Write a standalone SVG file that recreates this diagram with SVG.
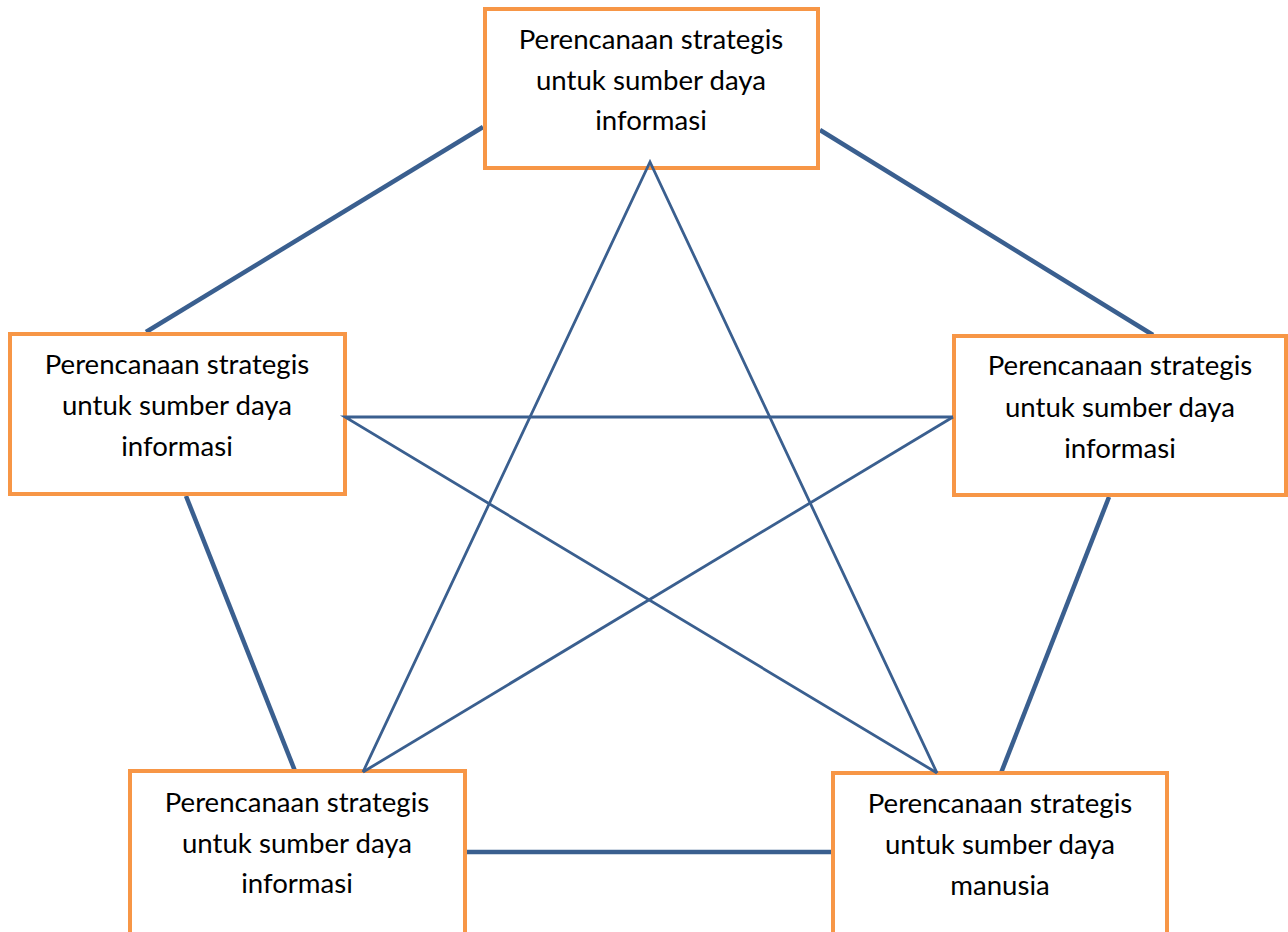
<svg xmlns="http://www.w3.org/2000/svg" width="1288" height="932" viewBox="0 0 1288 932">
<style>
.box{fill:#ffffff;stroke:#f79646;stroke-width:4}
.lbl{font-family:Lato,"Liberation Sans",sans-serif;font-size:27.6px;fill:#000;text-anchor:middle}
.thick{stroke:#3a5f8f;stroke-width:4.5;fill:none}
.thin{stroke:#3a5f8f;stroke-width:2.8;fill:none;stroke-linejoin:miter}
</style>
<rect width="1288" height="932" fill="#ffffff"/>
<g id="connectors">
<line class="thick" x1="483" y1="127" x2="146" y2="332"/>
<line class="thick" x1="820" y1="130" x2="1153" y2="335"/>
<line class="thick" x1="186" y1="496" x2="295" y2="771"/>
<line class="thick" x1="1109" y1="497" x2="1001" y2="773"/>
<line class="thick" x1="467" y1="852" x2="831" y2="852"/>
</g>
<g id="n1"><rect class="box" x="485" y="9" width="333" height="159"/>
<text class="lbl" x="651" y="49">Perencanaan strategis</text>
<text class="lbl" x="651" y="90">untuk sumber daya</text>
<text class="lbl" x="651" y="130">informasi</text></g>
<g id="n2"><rect class="box" x="10" y="334" width="335" height="160"/>
<text class="lbl" x="177" y="374">Perencanaan strategis</text>
<text class="lbl" x="177" y="415">untuk sumber daya</text>
<text class="lbl" x="177" y="456">informasi</text></g>
<g id="n3"><rect class="box" x="954" y="336" width="332" height="159"/>
<text class="lbl" x="1120" y="375">Perencanaan strategis</text>
<text class="lbl" x="1120" y="417">untuk sumber daya</text>
<text class="lbl" x="1120" y="458">informasi</text></g>
<g id="n4"><rect class="box" x="130" y="771" width="335" height="170"/>
<text class="lbl" x="297" y="812">Perencanaan strategis</text>
<text class="lbl" x="297" y="853">untuk sumber daya</text>
<text class="lbl" x="297" y="893">informasi</text></g>
<g id="n5"><rect class="box" x="833" y="773" width="334" height="170"/>
<text class="lbl" x="1000" y="813">Perencanaan strategis</text>
<text class="lbl" x="1000" y="854">untuk sumber daya</text>
<text class="lbl" x="1000" y="895">manusia</text></g>
<g id="star">
<polyline class="thin" points="363,772 650,162 937,773"/>
<polyline class="thin" points="953,417 345,417 937,773"/>
<line class="thin" x1="953" y1="417" x2="363" y2="772"/>
</g>
</svg>
